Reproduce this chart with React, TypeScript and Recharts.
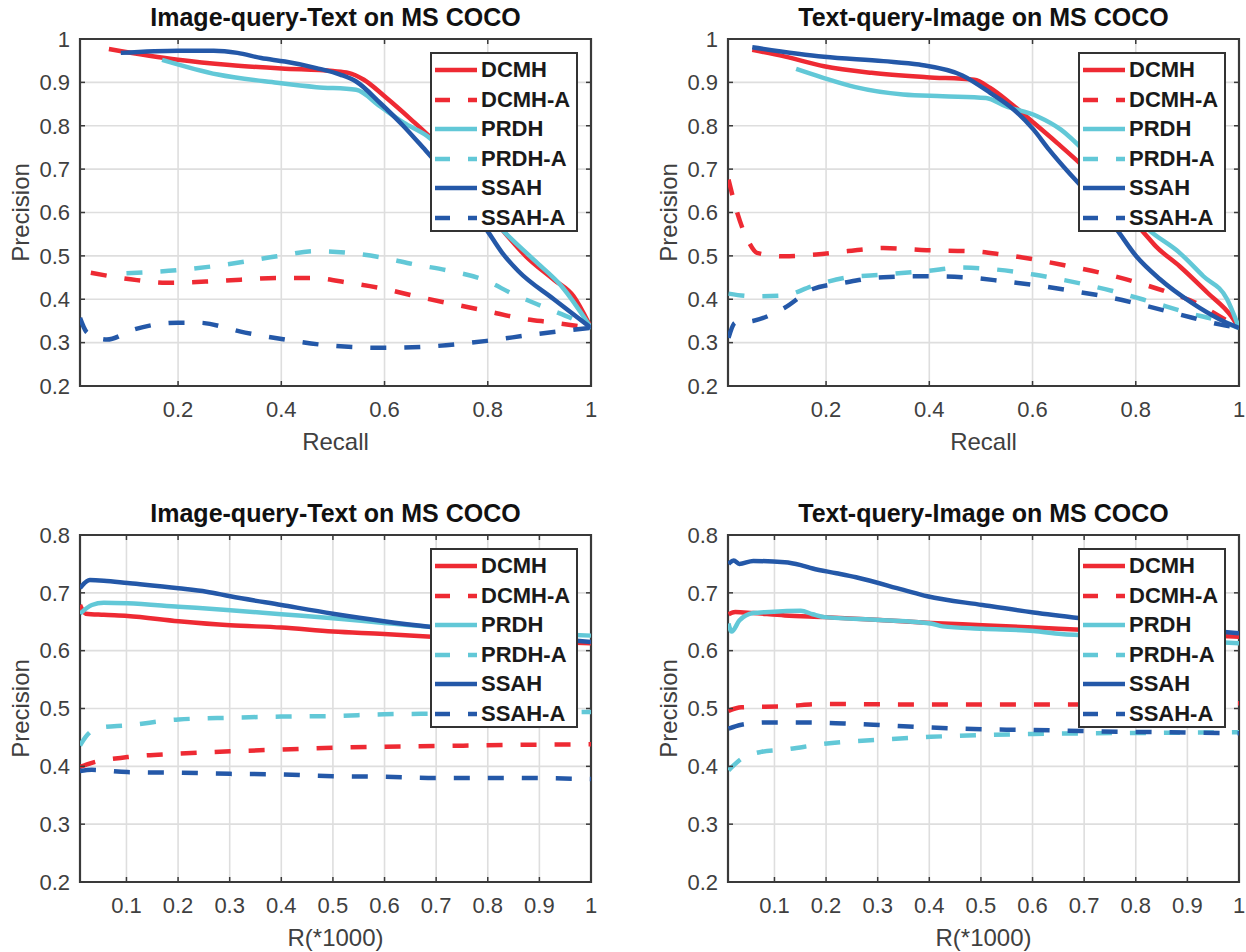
import React from 'react';
import { LineChart, Line, XAxis, YAxis, CartesianGrid, Legend, ReferenceArea } from 'recharts';

type Pt = [number, number];

// ---- category / tick data ----
const SERIES_NAMES = ['DCMH', 'DCMH-A', 'PRDH', 'PRDH-A', 'SSAH', 'SSAH-A'];
const RECALL_TICKS = [0.2, 0.4, 0.6, 0.8, 1];
const R_TICKS = [0.1, 0.2, 0.3, 0.4, 0.5, 0.6, 0.7, 0.8, 0.9, 1];
const Y_TICKS_TOP = [0.2, 0.3, 0.4, 0.5, 0.6, 0.7, 0.8, 0.9, 1];
const Y_TICKS_BOTTOM = [0.2, 0.3, 0.4, 0.5, 0.6, 0.7, 0.8];

// ---- Image-query-Text, Precision vs Recall ----
const itRecDCMH: Pt[] = [[0.066,0.977],[0.2,0.952],[0.3,0.94],[0.4,0.932],[0.5,0.926],[0.53,0.922],[0.56,0.906],[0.6,0.868],[0.65,0.816],[0.7,0.76],[0.828,0.56],[0.874,0.499],[0.928,0.445],[0.966,0.407],[1,0.334]];
const itRecDCMHA: Pt[] = [[0.031,0.461],[0.108,0.446],[0.177,0.438],[0.277,0.442],[0.392,0.449],[0.46,0.449],[0.53,0.438],[0.591,0.426],[0.66,0.407],[0.736,0.388],[0.798,0.373],[0.859,0.357],[0.928,0.346],[1,0.334]];
const itRecPRDH: Pt[] = [[0.169,0.952],[0.277,0.918],[0.392,0.899],[0.468,0.889],[0.545,0.883],[0.591,0.845],[0.637,0.807],[0.683,0.776],[0.828,0.56],[0.89,0.49],[0.943,0.43],[1,0.334]];
const itRecPRDHA: Pt[] = [[0.1,0.46],[0.2,0.467],[0.315,0.484],[0.392,0.499],[0.468,0.511],[0.53,0.507],[0.591,0.497],[0.66,0.48],[0.728,0.465],[0.79,0.446],[0.851,0.411],[0.913,0.38],[0.966,0.354],[1,0.334]];
const itRecSSAH: Pt[] = [[0.089,0.968],[0.2,0.973],[0.269,0.973],[0.315,0.968],[0.361,0.956],[0.407,0.948],[0.468,0.933],[0.514,0.918],[0.545,0.902],[0.591,0.853],[0.637,0.799],[0.675,0.749],[0.698,0.718],[0.798,0.56],[0.828,0.507],[0.859,0.465],[0.928,0.4],[1,0.334]];
const itRecSSAHA: Pt[] = [[0.01,0.357],[0.024,0.323],[0.062,0.307],[0.116,0.331],[0.2,0.346],[0.238,0.346],[0.33,0.323],[0.407,0.307],[0.506,0.292],[0.6,0.288],[0.698,0.292],[0.798,0.304],[0.89,0.319],[1,0.334]];

// ---- Text-query-Image, Precision vs Recall ----
const tiRecDCMH: Pt[] = [[0.057,0.975],[0.119,0.96],[0.196,0.937],[0.288,0.922],[0.395,0.912],[0.487,0.906],[0.518,0.887],[0.556,0.853],[0.602,0.807],[0.648,0.76],[0.694,0.711],[0.816,0.553],[0.839,0.522],[0.885,0.476],[0.939,0.415],[0.985,0.361],[1,0.334]];
const tiRecDCMHA: Pt[] = [[0.011,0.676],[0.028,0.599],[0.051,0.53],[0.066,0.507],[0.119,0.499],[0.181,0.503],[0.242,0.511],[0.311,0.518],[0.395,0.513],[0.479,0.511],[0.541,0.503],[0.602,0.492],[0.671,0.476],[0.732,0.461],[0.793,0.442],[0.855,0.419],[0.916,0.392],[0.962,0.361],[1,0.334]];
const tiRecPRDH: Pt[] = [[0.142,0.931],[0.196,0.91],[0.257,0.889],[0.349,0.872],[0.426,0.868],[0.51,0.864],[0.548,0.845],[0.609,0.822],[0.655,0.791],[0.701,0.741],[0.824,0.561],[0.885,0.507],[0.931,0.453],[0.977,0.4],[1,0.334]];
const tiRecPRDHA: Pt[] = [[0.011,0.413],[0.058,0.407],[0.119,0.409],[0.173,0.43],[0.234,0.449],[0.311,0.457],[0.395,0.465],[0.464,0.473],[0.525,0.469],[0.602,0.457],[0.678,0.44],[0.755,0.419],[0.824,0.396],[0.9,0.369],[0.962,0.35],[1,0.334]];
const tiRecSSAH: Pt[] = [[0.057,0.981],[0.196,0.959],[0.311,0.949],[0.38,0.941],[0.464,0.916],[0.518,0.876],[0.564,0.837],[0.602,0.791],[0.632,0.745],[0.671,0.691],[0.694,0.661],[0.763,0.561],[0.801,0.499],[0.847,0.446],[0.908,0.392],[0.962,0.354],[1,0.334]];
const tiRecSSAHA: Pt[] = [[0.011,0.311],[0.024,0.346],[0.058,0.35],[0.119,0.38],[0.173,0.423],[0.234,0.438],[0.311,0.451],[0.395,0.453],[0.464,0.451],[0.541,0.442],[0.602,0.433],[0.678,0.419],[0.755,0.403],[0.809,0.388],[0.885,0.365],[0.962,0.342],[1,0.334]];

// ---- Image-query-Text, Precision vs R(*1000) ----
const itRDCMH: Pt[] = [[0.01,0.679],[0.021,0.664],[0.056,0.662],[0.102,0.66],[0.201,0.651],[0.301,0.644],[0.4,0.64],[0.5,0.633],[0.599,0.629],[0.691,0.624],[1,0.613]];
const itRDCMHA: Pt[] = [[0.01,0.399],[0.033,0.406],[0.102,0.416],[0.201,0.422],[0.301,0.426],[0.4,0.429],[0.5,0.432],[0.599,0.434],[0.699,0.435],[0.852,0.437],[1,0.438]];
const itRPRDH: Pt[] = [[0.01,0.664],[0.033,0.679],[0.056,0.683],[0.102,0.682],[0.201,0.676],[0.301,0.67],[0.4,0.663],[0.5,0.656],[0.599,0.648],[0.691,0.641],[1,0.626]];
const itRPRDHA: Pt[] = [[0.01,0.436],[0.021,0.451],[0.048,0.467],[0.102,0.471],[0.201,0.481],[0.301,0.484],[0.4,0.486],[0.5,0.487],[0.599,0.49],[0.699,0.491],[1,0.494]];
const itRSSAH: Pt[] = [[0.01,0.708],[0.029,0.722],[0.056,0.721],[0.102,0.717],[0.201,0.708],[0.255,0.702],[0.301,0.694],[0.4,0.679],[0.5,0.664],[0.599,0.651],[0.699,0.64],[1,0.615]];
const itRSSAHA: Pt[] = [[0.01,0.392],[0.033,0.394],[0.102,0.39],[0.201,0.389],[0.301,0.387],[0.4,0.386],[0.5,0.383],[0.599,0.382],[0.699,0.38],[0.852,0.38],[1,0.378]];

// ---- Text-query-Image, Precision vs R(*1000) ----
const tiRDCMH: Pt[] = [[0.011,0.663],[0.024,0.667],[0.059,0.665],[0.12,0.661],[0.197,0.658],[0.304,0.653],[0.403,0.648],[0.503,0.644],[0.602,0.64],[0.694,0.636],[1,0.624]];
const tiRDCMHA: Pt[] = [[0.011,0.496],[0.036,0.502],[0.12,0.504],[0.197,0.508],[0.35,0.507],[0.503,0.507],[0.656,0.507],[1,0.509]];
const tiRPRDH: Pt[] = [[0.011,0.647],[0.017,0.633],[0.032,0.652],[0.059,0.665],[0.09,0.667],[0.151,0.669],[0.174,0.663],[0.197,0.658],[0.304,0.653],[0.403,0.647],[0.426,0.642],[0.503,0.638],[0.602,0.634],[0.656,0.629],[0.694,0.627],[1,0.613]];
const tiRPRDHA: Pt[] = [[0.011,0.393],[0.036,0.413],[0.074,0.425],[0.12,0.429],[0.197,0.439],[0.304,0.446],[0.403,0.451],[0.503,0.454],[0.602,0.456],[0.694,0.457],[0.847,0.458],[1,0.459]];
const tiRSSAH: Pt[] = [[0.011,0.75],[0.021,0.756],[0.032,0.75],[0.059,0.755],[0.12,0.753],[0.151,0.748],[0.174,0.742],[0.22,0.734],[0.258,0.727],[0.35,0.705],[0.396,0.694],[0.503,0.679],[0.602,0.666],[0.694,0.656],[1,0.63]];
const tiRSSAHA: Pt[] = [[0.011,0.465],[0.036,0.472],[0.09,0.476],[0.158,0.476],[0.235,0.474],[0.311,0.471],[0.403,0.467],[0.503,0.464],[0.602,0.463],[0.694,0.461],[0.847,0.459],[1,0.457]];

// ---- styling ----
const RED = '#EE2A33';
const CYAN = '#62C8D7';
const BLUE = '#2458A8';
const FONT = '"Liberation Sans", Arial, Helvetica, sans-serif';
const AX = '#3a3a3a';
const TICK = '#404040';
const COLORS = [RED, RED, CYAN, CYAN, BLUE, BLUE];
const DASHED = [false, true, false, true, false, true];
const DASH = '16 18';
const LW = 4.5;

// plot-area frame in chart-local pixels (from the margins / axis sizes below)
const CW = 598;
const CH = 476;
const P_TOP = 39;
const P_LEFT = 80;
const P_RIGHT = 591;
const P_BOTTOM = 386;
const TK = 5;

const toObj = (a: Pt[]) => a.map(([x, y]) => ({ x, y }));

const LegendBox = () => (
  <div
    style={{
      width: 148,
      height: 180,
      border: '2px solid #333',
      background: '#fff',
      boxSizing: 'border-box',
      position: 'relative',
      fontFamily: FONT,
    }}
  >
    {SERIES_NAMES.map((name, i) => (
      <div
        key={name}
        style={{
          position: 'absolute',
          left: 3,
          top: 3 + i * 29.6,
          height: 26,
          display: 'flex',
          alignItems: 'center',
          whiteSpace: 'nowrap',
        }}
      >
        <svg width={44} height={8} style={{ display: 'block' }}>
          <line
            x1={0}
            y1={4}
            x2={42}
            y2={4}
            stroke={COLORS[i]}
            strokeWidth={4.5}
            strokeDasharray={DASHED[i] ? '15 18' : undefined}
          />
        </svg>
        <span style={{ fontWeight: 'bold', fontSize: 22, color: '#1a1a1a', marginLeft: 2, lineHeight: '26px' }}>
          {name}
        </span>
      </div>
    ))}
  </div>
);

const XTick = (p: any) => {
  const x = p.x;
  return (
    <g>
      <line x1={x} y1={P_BOTTOM} x2={x} y2={P_BOTTOM - TK} stroke={AX} strokeWidth={1.5} />
      <line x1={x} y1={P_TOP} x2={x} y2={P_TOP + TK} stroke={AX} strokeWidth={1.5} />
      <text x={x} y={P_BOTTOM + 31} textAnchor="middle" fill={TICK} fontSize={22} fontFamily={FONT}>
        {String(p.payload.value)}
      </text>
    </g>
  );
};

const YTick = (p: any) => {
  const y = p.y;
  return (
    <g>
      <line x1={P_LEFT} y1={y} x2={P_LEFT + TK} y2={y} stroke={AX} strokeWidth={1.5} />
      <line x1={P_RIGHT} y1={y} x2={P_RIGHT - TK} y2={y} stroke={AX} strokeWidth={1.5} />
      <text x={P_LEFT - 10} y={y + 7.8} textAnchor="end" fill={TICK} fontSize={22} fontFamily={FONT}>
        {String(p.payload.value)}
      </text>
    </g>
  );
};

type PanelProps = {
  ox: number;
  oy: number;
  title: string;
  xLabel: string;
  xTicks: number[];
  yDomain: [number, number];
  yTicks: number[];
  series: Pt[][];
};

function Panel({ ox, oy, title, xLabel, xTicks, yDomain, yTicks, series }: PanelProps) {
  return (
    <div style={{ position: 'absolute', left: ox, top: oy, width: CW, height: CH }}>
      <div
        style={{
          position: 'absolute',
          left: P_LEFT,
          width: P_RIGHT - P_LEFT,
          top: 3,
          textAlign: 'center',
          fontFamily: FONT,
          fontWeight: 'bold',
          fontSize: 25,
          lineHeight: '29px',
          color: '#111',
          whiteSpace: 'nowrap',
        }}
      >
        {title}
      </div>
      <LineChart
        width={CW}
        height={CH}
        margin={{ top: P_TOP, right: CW - P_RIGHT, bottom: 0, left: 0 }}
        style={{ fontFamily: FONT, position: 'absolute', left: 0, top: 0 }}
      >
        <CartesianGrid stroke="#dedede" strokeWidth={1.6} />
        <XAxis
          type="number"
          dataKey="x"
          domain={[0.01, 1]}
          allowDataOverflow
          ticks={xTicks}
          interval={0}
          height={CH - P_BOTTOM}
          tickSize={0}
          tickMargin={0}
          axisLine={false}
          tickLine={false}
          tick={XTick}
          label={{
            content: (p: any) => {
              const vb = p.viewBox || {};
              return (
                <text x={vb.x + vb.width / 2} y={450} textAnchor="middle" fill={TICK} fontSize={24} fontFamily={FONT}>
                  {xLabel}
                </text>
              );
            },
          }}
        />
        <YAxis
          type="number"
          domain={yDomain}
          allowDataOverflow
          ticks={yTicks}
          interval={0}
          width={P_LEFT}
          tickSize={0}
          tickMargin={0}
          axisLine={false}
          tickLine={false}
          tick={YTick}
          label={{
            content: (p: any) => {
              const vb = p.viewBox || {};
              const cy = vb.y + vb.height / 2;
              return (
                <text
                  x={29}
                  y={cy}
                  transform={`rotate(-90 29 ${cy})`}
                  textAnchor="middle"
                  fill={TICK}
                  fontSize={24}
                  fontFamily={FONT}
                >
                  Precision
                </text>
              );
            },
          }}
        />
        {series.map((pts, i) => (
          <Line
            key={SERIES_NAMES[i]}
            name={SERIES_NAMES[i]}
            data={toObj(pts)}
            dataKey="y"
            type="monotone"
            stroke={COLORS[i]}
            strokeWidth={LW}
            strokeDasharray={DASHED[i] ? DASH : undefined}
            strokeLinejoin="round"
            dot={false}
            activeDot={false}
            isAnimationActive={false}
          />
        ))}
        <ReferenceArea
          x1={0.01}
          x2={1}
          y1={yDomain[0]}
          y2={yDomain[1]}
          fill="none"
          fillOpacity={0}
          stroke={AX}
          strokeWidth={2.2}
          ifOverflow="visible"
        />
        <Legend
          content={LegendBox}
          layout="horizontal"
          verticalAlign="middle"
          align="center"
          wrapperStyle={{ left: 430, top: 52, width: 148, height: 180 }}
        />
      </LineChart>
    </div>
  );
}

export default function App() {
  return (
    <div
      style={{
        position: 'absolute',
        left: 0,
        top: 0,
        width: 1246,
        height: 952,
        overflow: 'hidden',
        background: '#fff',
      }}
    >
      <Panel
        ox={0}
        oy={0}
        title="Image-query-Text on MS COCO"
        xLabel="Recall"
        xTicks={RECALL_TICKS}
        yDomain={[0.2, 1]}
        yTicks={Y_TICKS_TOP}
        series={[itRecDCMH, itRecDCMHA, itRecPRDH, itRecPRDHA, itRecSSAH, itRecSSAHA]}
      />
      <Panel
        ox={648}
        oy={0}
        title="Text-query-Image on MS COCO"
        xLabel="Recall"
        xTicks={RECALL_TICKS}
        yDomain={[0.2, 1]}
        yTicks={Y_TICKS_TOP}
        series={[tiRecDCMH, tiRecDCMHA, tiRecPRDH, tiRecPRDHA, tiRecSSAH, tiRecSSAHA]}
      />
      <Panel
        ox={0}
        oy={496}
        title="Image-query-Text on MS COCO"
        xLabel="R(*1000)"
        xTicks={R_TICKS}
        yDomain={[0.2, 0.8]}
        yTicks={Y_TICKS_BOTTOM}
        series={[itRDCMH, itRDCMHA, itRPRDH, itRPRDHA, itRSSAH, itRSSAHA]}
      />
      <Panel
        ox={648}
        oy={496}
        title="Text-query-Image on MS COCO"
        xLabel="R(*1000)"
        xTicks={R_TICKS}
        yDomain={[0.2, 0.8]}
        yTicks={Y_TICKS_BOTTOM}
        series={[tiRDCMH, tiRDCMHA, tiRPRDH, tiRPRDHA, tiRSSAH, tiRSSAHA]}
      />
    </div>
  );
}
